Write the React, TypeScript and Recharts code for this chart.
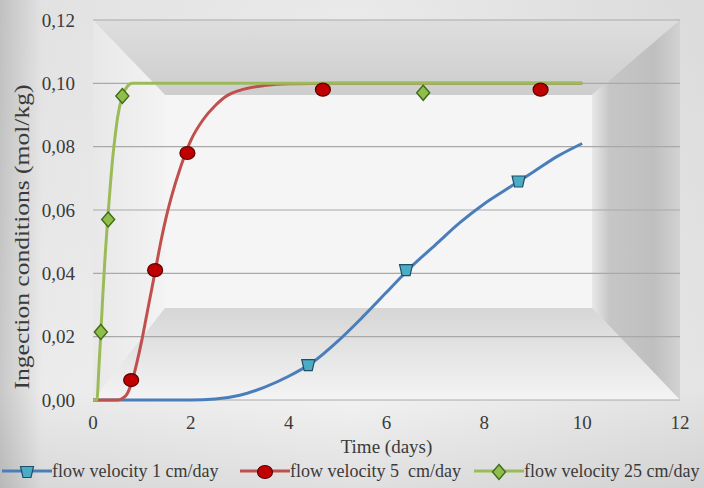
import React from "react";
import {
  CartesianGrid,
  ComposedChart,
  Line,
  Scatter,
  XAxis,
  YAxis,
} from "recharts";

// model curves (days -> mol/kg)
const blueT = [0, 1, 2, 2.5, 3, 3.5, 4, 4.5, 5, 5.5, 6, 6.5, 7, 7.5, 8, 8.5, 9, 9.5, 10];
const blueModel = [0, 0, 0, 0.0003, 0.0015, 0.004, 0.0075, 0.012, 0.0185, 0.026, 0.034, 0.042, 0.049, 0.056, 0.062, 0.067, 0.072, 0.077, 0.081];

const redT = [0, 0.5, 0.6, 0.7, 0.8, 0.9, 1.0, 1.1, 1.2, 1.3, 1.4, 1.5, 1.6, 1.8, 2.0, 2.25, 2.5, 2.75, 3, 3.5, 4, 5, 6, 7, 8, 9, 10];
const redModel = [0, 0, 0.0005, 0.002, 0.006, 0.012, 0.019, 0.027, 0.035, 0.043, 0.051, 0.058, 0.064, 0.074, 0.082, 0.0885, 0.093, 0.0962, 0.0978, 0.0993, 0.0999, 0.1, 0.1, 0.1, 0.1, 0.1, 0.1];

const greenT = [0, 0.08, 0.12, 0.16, 0.2, 0.25, 0.3, 0.35, 0.4, 0.45, 0.5, 0.6, 0.7, 0.8, 1, 2, 4, 6, 8, 10];
const greenModel = [0, 0, 0.01, 0.021, 0.033, 0.046, 0.057, 0.067, 0.076, 0.083, 0.089, 0.096, 0.099, 0.1, 0.1, 0.1, 0.1, 0.1, 0.1, 0.1];

// measured points
const blueObsT = [4.4, 6.4, 8.7];
const blueObs = [0.011, 0.041, 0.069];
const redObsT = [0.78, 1.27, 1.93, 4.7, 9.15];
const redObs = [0.0063, 0.041, 0.078, 0.098, 0.098];
const greenObsT = [0.16, 0.31, 0.6, 6.75];
const greenObs = [0.0215, 0.057, 0.096, 0.097];

const xTicks = [0, 2, 4, 6, 8, 10, 12];
const yTicks = [0, 0.02, 0.04, 0.06, 0.08, 0.1, 0.12];

const seriesNames = [
  "flow velocity 1 cm/day",
  "flow velocity 5  cm/day",
  "flow velocity 25 cm/day",
];

const zip = (xs: number[], ys: number[]) => xs.map((x, i) => ({ x, y: ys[i] }));

const FONT = "'Liberation Serif', 'DejaVu Serif', 'Times New Roman', serif";
const TEXT = "#3a3a3a";

const BLUE = "#4a7ebb";
const RED = "#c0504d";
const GREEN = "#9bbb59";

function Cup({ cx, cy }: any) {
  return (
    <path
      d={`M${cx - 6.5},${cy - 5.5} L${cx + 6.5},${cy - 5.5} L${cx + 4},${cy + 5.5} L${cx - 4},${cy + 5.5} Z`}
      fill="#4bacc6"
      stroke="#1f4e66"
      strokeWidth={1.2}
    />
  );
}

function Dot({ cx, cy }: any) {
  return <ellipse cx={cx} cy={cy} rx={7.5} ry={6.5} fill="#c00000" stroke="#5a0000" strokeWidth={1.2} />;
}

function Diamond({ cx, cy }: any) {
  return (
    <path
      d={`M${cx},${cy - 7.5} L${cx + 6.5},${cy} L${cx},${cy + 7.5} L${cx - 6.5},${cy} Z`}
      fill="#8fbf4a"
      stroke="#3f6a1c"
      strokeWidth={1.4}
    />
  );
}

const fmt = (v: number) => v.toFixed(2).replace(".", ",");

function Frame() {
  // beveled plot background, plot area 93..680 x 20..400
  return (
    <svg width={704} height={488} style={{ position: "absolute", left: 0, top: 0 }}>
      <defs>
        <linearGradient id="page" x1="0" x2="1" y1="0" y2="0">
          <stop offset="0" stopColor="#c8c8c8" />
          <stop offset="0.06" stopColor="#ebebeb" />
          <stop offset="0.5" stopColor="#f3f3f3" />
          <stop offset="1" stopColor="#e4e4e4" />
        </linearGradient>
        <linearGradient id="pageV" x1="0" x2="0" y1="0" y2="1">
          <stop offset="0" stopColor="#000" stopOpacity={0.04} />
          <stop offset="0.8" stopColor="#000" stopOpacity={0} />
          <stop offset="1" stopColor="#000" stopOpacity={0.08} />
        </linearGradient>
        <linearGradient id="top" x1="0" x2="0" y1="0" y2="1">
          <stop offset="0" stopColor="#dedede" />
          <stop offset="1" stopColor="#cdcdcd" />
        </linearGradient>
        <linearGradient id="left" x1="0" x2="1" y1="0" y2="0">
          <stop offset="0" stopColor="#e8e8e8" />
          <stop offset="1" stopColor="#f3f3f3" />
        </linearGradient>
        <linearGradient id="right" x1="0" x2="1" y1="0" y2="0">
          <stop offset="0" stopColor="#e8e8e8" />
          <stop offset="0.2" stopColor="#c6c6c6" />
          <stop offset="0.7" stopColor="#bfbfbf" />
          <stop offset="1" stopColor="#d2d2d2" />
        </linearGradient>
        <linearGradient id="bottom" x1="0" x2="0" y1="0" y2="1">
          <stop offset="0" stopColor="#d6d6d6" />
          <stop offset="1" stopColor="#f4f4f4" />
        </linearGradient>
      </defs>
      <rect x={0} y={0} width={704} height={488} fill="url(#page)" />
      <rect x={0} y={0} width={704} height={488} fill="url(#pageV)" />
      <rect x={165} y={95} width={427} height={213} fill="#f5f5f5" />
      <polygon points="93,20 680,20 592,95 165,95" fill="url(#top)" />
      <polygon points="93,20 165,95 165,308 93,400" fill="url(#left)" />
      <polygon points="680,20 680,400 592,308 592,95" fill="url(#right)" />
      <polygon points="93,400 680,400 592,308 165,308" fill="url(#bottom)" />
    </svg>
  );
}

function LegendItem({ left, color, Marker, name }: any) {
  return (
    <div style={{ position: "absolute", left, top: 461, display: "flex", alignItems: "center" }}>
      <svg width={50} height={20}>
        <line x1={0} y1={10} x2={50} y2={10} stroke={color} strokeWidth={3} />
        <Marker cx={25} cy={11} />
      </svg>
      <span style={{ fontFamily: FONT, fontSize: 18, lineHeight: "20px", color: TEXT, whiteSpace: "pre" }}>{name}</span>
    </div>
  );
}

export default function App() {
  return (
    <div
      style={{
        position: "absolute",
        left: 0,
        top: 0,
        width: 704,
        height: 488,
        overflow: "hidden",
        fontFamily: FONT,
      }}
    >
      <Frame />
      <div style={{ position: "absolute", left: 0, top: 0 }}>
        <ComposedChart
          width={704}
          height={488}
          margin={{ top: 20, right: 24, bottom: 28, left: 0 }}
          style={{ fontFamily: FONT }}
        >
          <CartesianGrid vertical={false} stroke="#a9a9a9" strokeWidth={1.2} />
          <XAxis
            type="number"
            dataKey="x"
            domain={[0, 12]}
            ticks={xTicks}
            axisLine={false}
            tickLine={false}
            tickSize={0}
            tickMargin={16}
            height={60}
            tick={{ fill: TEXT, fontSize: 19, fontFamily: FONT }}
            label={{
              content: ({ viewBox }: any) => (
                <text
                  x={viewBox.x + viewBox.width / 2}
                  y={viewBox.y + 53}
                  textAnchor="middle"
                  fill={TEXT}
                  fontSize={19}
                  fontFamily={FONT}
                >
                  Time (days)
                </text>
              ),
            }}
          />
          <YAxis
            type="number"
            dataKey="y"
            domain={[0, 0.12]}
            ticks={yTicks}
            tickFormatter={fmt}
            axisLine={false}
            tickLine={false}
            tickSize={0}
            tickMargin={18}
            width={93}
            tick={{ fill: TEXT, fontSize: 19, fontFamily: FONT }}
            label={{
              content: () => (
                <text
                  transform="translate(29,237) rotate(-90)"
                  textAnchor="middle"
                  fill={TEXT}
                  fontSize={21}
                  fontFamily={FONT}
                  textLength={305}
                  lengthAdjust="spacingAndGlyphs"
                >
                  Ingection conditions (mol/kg)
                </text>
              ),
            }}
          />
          <Line data={zip(blueT, blueModel)} dataKey="y" type="monotone" stroke={BLUE} strokeWidth={3} dot={false} isAnimationActive={false} />
          <Line data={zip(redT, redModel)} dataKey="y" type="monotone" stroke={RED} strokeWidth={3} dot={false} isAnimationActive={false} />
          <Line data={zip(greenT, greenModel)} dataKey="y" type="monotone" stroke={GREEN} strokeWidth={3} dot={false} isAnimationActive={false} />
          <Scatter data={zip(blueObsT, blueObs)} dataKey="y" shape={Cup} isAnimationActive={false} />
          <Scatter data={zip(redObsT, redObs)} dataKey="y" shape={Dot} isAnimationActive={false} />
          <Scatter data={zip(greenObsT, greenObs)} dataKey="y" shape={Diamond} isAnimationActive={false} />
        </ComposedChart>
      </div>
      <LegendItem left={2} color={BLUE} Marker={Cup} name={seriesNames[0]} />
      <LegendItem left={240} color={RED} Marker={Dot} name={seriesNames[1]} />
      <LegendItem left={474} color={GREEN} Marker={Diamond} name={seriesNames[2]} />
    </div>
  );
}
